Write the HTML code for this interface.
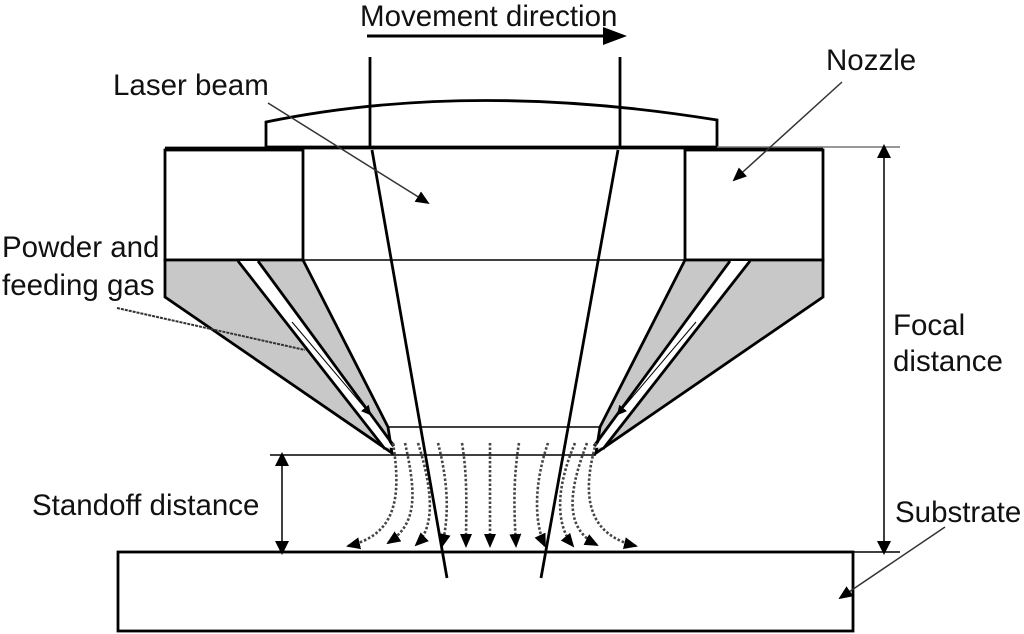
<!DOCTYPE html>
<html><head><style>
html,body{margin:0;padding:0;background:#fff;}
svg{display:block;}
text{font-family:"Liberation Sans",Arial,sans-serif;font-size:29.5px;fill:#111;}
</style></head><body>
<svg width="1024" height="634" viewBox="0 0 1024 634" xmlns="http://www.w3.org/2000/svg">
<defs>
<marker id="ah" markerWidth="10" markerHeight="10" refX="8" refY="5" orient="auto" markerUnits="userSpaceOnUse"><path d="M0,0 L10,5 L0,10 z" fill="#000"/></marker>
<marker id="as" markerWidth="14" markerHeight="14" refX="12" refY="7" orient="auto" markerUnits="userSpaceOnUse"><path d="M0,1 L14,7 L0,13 z" fill="#000"/></marker>
</defs>
<g stroke="#000" stroke-width="2.8" fill="none">
<path d="M266,147 L266,122 Q470,80 717,120 L717,147 Z" fill="#fff"/>
<line x1="165" y1="148" x2="823" y2="148"/>
<rect x="165" y="150" width="138" height="110" fill="#fff"/>
<rect x="685" y="150" width="138" height="110" fill="#fff"/>
<line x1="303" y1="260" x2="685" y2="260" stroke-width="1.5"/>
<path d="M165,260 L303,260 L388,427 L392,453 L165,297 Z" fill="#c8c8c8"/>
<path d="M238,261 L260,261 L393,448 L383,447 Z" fill="#fff" stroke="none"/>
<line x1="238" y1="261" x2="385" y2="449"/>
<line x1="258" y1="261" x2="394" y2="446"/>
<line x1="292" y1="322" x2="370" y2="414" stroke-width="1" marker-end="url(#ah)"/>
<path d="M823,260 L685,260 L600,427 L596,453 L823,297 Z" fill="#c8c8c8"/>
<path d="M750,261 L728,261 L595,448 L605,447 Z" fill="#fff" stroke="none"/>
<line x1="750" y1="261" x2="603" y2="449"/>
<line x1="730" y1="261" x2="594" y2="446"/>
<line x1="696" y1="322" x2="618" y2="414" stroke-width="1" marker-end="url(#ah)"/>
<line x1="388" y1="427" x2="600" y2="427" stroke-width="1.5"/>
<line x1="270" y1="455" x2="596" y2="455" stroke-width="1.5"/>
<line x1="282" y1="462" x2="282" y2="548" stroke-width="1.5"/>
<line x1="717" y1="147" x2="900" y2="147" stroke-width="1.5" stroke="#777"/>
<line x1="884" y1="154" x2="884" y2="548" stroke-width="1.5"/>
<line x1="850" y1="552" x2="900" y2="552" stroke-width="1.5"/>
<rect x="118" y="552" width="735" height="79" fill="#fff"/>
<line x1="370" y1="57" x2="370" y2="147"/>
<path d="M372,150 L447,578"/>
<line x1="620" y1="57" x2="620" y2="147"/>
<path d="M618,150 L541,578"/>
</g>
<path d="M282,452 L275,466 L289,466 Z M282,555 L275,541 L289,541 Z" fill="#000"/>
<path d="M884,144 L877,158 L891,158 Z M884,555 L877,541 L891,541 Z" fill="#000"/>
<line x1="367" y1="36" x2="605" y2="36" stroke="#000" stroke-width="3"/>
<path d="M627,36 L603,27 L603,45 Z" fill="#000"/>
<g stroke="#333" stroke-width="1.5" fill="none">
<line x1="268" y1="103" x2="428" y2="203" marker-end="url(#as)"/>
<line x1="842" y1="82" x2="734" y2="180" marker-end="url(#as)"/>
<line x1="945" y1="527" x2="840" y2="598" marker-end="url(#as)"/>
<line x1="117" y1="308" x2="305" y2="350" stroke-dasharray="3,1" stroke-width="2"/>
</g>
<g stroke="#444" stroke-width="2.6" fill="none" stroke-dasharray="2.5,2">
<path d="M393,443 C402,500 395,535 348,546" marker-end="url(#as)"/>
<path d="M405,443 C418,500 415,525 388,543" marker-end="url(#as)"/>
<path d="M418,443 C436,500 432,530 416,545" marker-end="url(#as)"/>
<path d="M438,443 C450,490 448,520 442,546" marker-end="url(#as)"/>
<path d="M462,443 C468,480 466,510 466,546" marker-end="url(#as)"/>
<path d="M490,443 L490,546" marker-end="url(#as)"/>
<path d="M519,443 C513,480 514,510 516,546" marker-end="url(#as)"/>
<path d="M548,443 C535,480 533,520 545,546" marker-end="url(#as)"/>
<path d="M575,443 C555,490 556,525 573,546" marker-end="url(#as)"/>
<path d="M587,443 C565,500 568,530 597,545" marker-end="url(#as)"/>
<path d="M596,443 C580,500 590,535 636,546" marker-end="url(#as)"/>
</g>
<text x="360" y="26">Movement direction</text>
<text x="113" y="95">Laser beam</text>
<text x="826" y="70">Nozzle</text>
<text x="2" y="257">Powder and</text>
<text x="2" y="295">feeding gas</text>
<text x="893" y="335">Focal</text>
<text x="893" y="371">distance</text>
<text x="32" y="515">Standoff distance</text>
<text x="895" y="522">Substrate</text>
</svg>
</body></html>
